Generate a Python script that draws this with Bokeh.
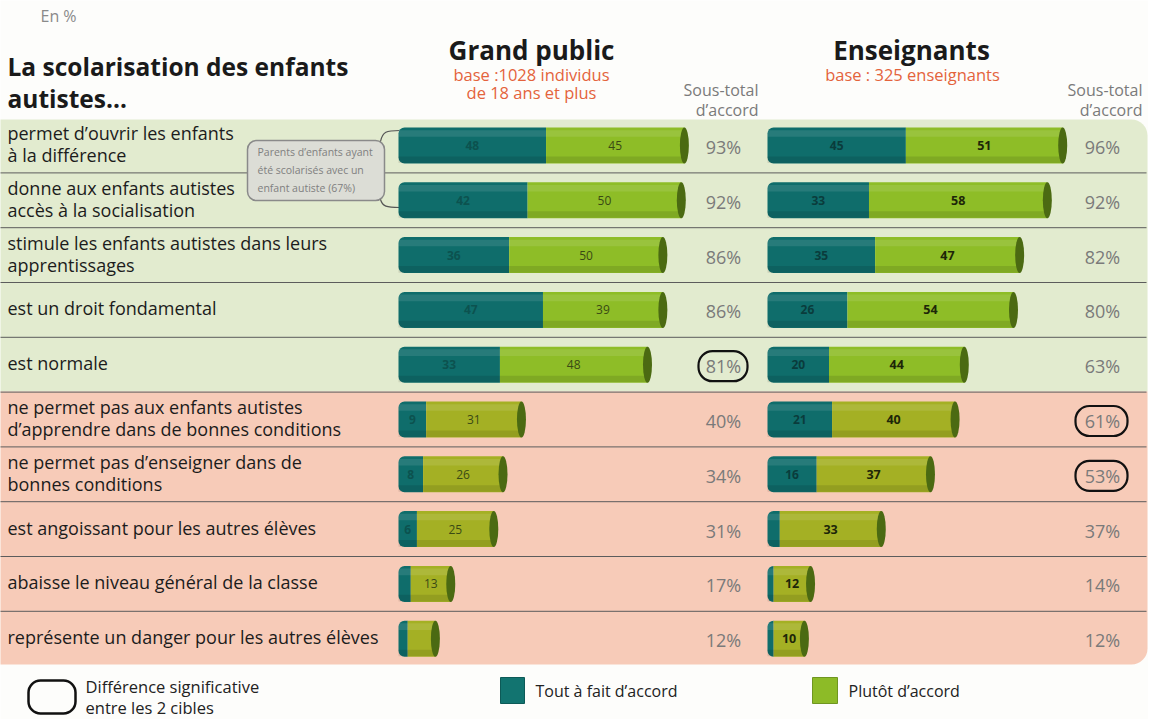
from bokeh.plotting import figure
from bokeh.models import Range1d, BoxAnnotation, ColumnDataSource
from bokeh.core.properties import value, field
from bokeh.embed import file_html
from bokeh.resources import INLINE

# ---------------- data ----------------
statements = [
    "permet d’ouvrir les enfants\nà la différence",
    "donne aux enfants autistes\naccès à la socialisation",
    "stimule les enfants autistes dans leurs\napprentissages",
    "est un droit fondamental",
    "est normale",
    "ne permet pas aux enfants autistes\nd’apprendre dans de bonnes conditions",
    "ne permet pas d’enseigner dans de\nbonnes conditions",
    "est angoissant pour les autres élèves",
    "abaisse le niveau général de la classe",
    "représente un danger pour les autres élèves",
]
gp_tout = [48, 42, 36, 47, 33, 9, 8, 6, 4, 3]
gp_plutot = [45, 50, 50, 39, 48, 31, 26, 25, 13, 9]
gp_subtotal = [93, 92, 86, 86, 81, 40, 34, 31, 17, 12]
ens_tout = [45, 33, 35, 26, 20, 21, 16, 4, 2, 2]
ens_plutot = [51, 58, 47, 54, 44, 40, 37, 33, 12, 10]
ens_subtotal = [96, 92, 82, 80, 63, 61, 53, 37, 14, 12]
gp_significant = [False, False, False, False, True, False, False, False, False, False]
ens_significant = [False, False, False, False, False, True, True, False, False, False]

# ---------------- layout helpers ----------------
W, H = 1148, 719
FONT = value("Open Sans")


def X(px):
    return px


def Y(py):
    return H - py


ROW0, ROWH = 145.0, 54.8
GP0, GPS = 398.0, 3.074
EN0, ENS = 767.0, 3.075

p = figure(width=W, height=H, x_range=Range1d(0, W), y_range=Range1d(0, H),
           output_backend="svg", toolbar_location=None, min_border=0,
           x_axis_type=None, y_axis_type=None, outline_line_color=None,
           background_fill_color="#fdfdfb", border_fill_color="#fdfdfb")
p.grid.visible = False
p.extra_y_ranges = {"rows": Range1d(start=(H - ROW0) / ROWH, end=(0 - ROW0) / ROWH)}
p.extra_x_ranges = {
    "gp": Range1d(start=(0 - GP0) / GPS, end=(W - GP0) / GPS),
    "ens": Range1d(start=(0 - EN0) / ENS, end=(W - EN0) / ENS),
}

n = len(statements)
rows = list(range(n))

# ---------------- background bands ----------------
p.add_layout(BoxAnnotation(left=-30, right=X(1147), top=Y(119), bottom=Y(391),
                           fill_color="#e2ebcf", fill_alpha=1, line_color=None,
                           border_radius=(0, 16, 0, 0), level="underlay"))
p.add_layout(BoxAnnotation(left=-30, right=X(1147), top=Y(391), bottom=Y(664),
                           fill_color="#f7cbb8", fill_alpha=1, line_color=None,
                           border_radius=(0, 0, 16, 0), level="underlay"))

# row separators
seps = [r + 0.5 for r in rows[:-1]]
p.segment(x0=-2, x1=X(1146), y0=seps, y1=seps,
          y_range_name="rows", line_color="#5c5c5c", line_width=1)

# ---------------- row labels ----------------
LINE_OFF = 11.0 / ROWH
LBL_SHIFT = -1.5 / ROWH
lab_y, lab_t = [], []
for r, s in zip(rows, statements):
    parts = s.split("\n")
    if len(parts) == 1:
        lab_y.append(r + LBL_SHIFT)
        lab_t.append(parts[0])
    else:
        lab_y += [r + LBL_SHIFT - LINE_OFF, r + LBL_SHIFT + LINE_OFF]
        lab_t += parts
p.text(x=X(7), y=lab_y, text=lab_t, y_range_name="rows",
       text_font=FONT, text_font_size="18px", text_color="#1c1c1c",
       text_align="left", text_baseline="middle")

# ---------------- callout (drawn over separators) ----------------
p.quad(left=X(247), right=X(384), top=Y(140), bottom=Y(200),
       fill_color="#dcddd6", line_color="#8a8a8a", line_width=1.5, border_radius=9)
p.text(x=X(257), y=[Y(151), Y(169), Y(187)],
       text=["Parents d’enfants ayant", "été scolarisés avec un", "enfant autiste (67%)"],
       text_font=FONT, text_font_size="10.5px", text_color="#808080",
       text_align="left", text_baseline="middle")
p.bezier(x0=[X(380), X(380)], y0=[Y(141), Y(199)], x1=[X(399), X(399)], y1=[Y(130), Y(207)],
         cx0=[X(382), X(382)], cy0=[Y(131), Y(206)], cx1=[X(386), X(386)], cy1=[Y(130), Y(207)],
         line_color="#555555", line_width=1.2)

# ---------------- bars ----------------
TEAL = "#0f6d6b"
GREEN_TOP = "#8ebd27"
GREEN_LOW = "#a4b024"
CAP = "#4b6a12"
BAR_H = 36 / ROWH

for tout, plutot, sub, sig, rng, scale, sub_x, box_l, box_r, bold_lbl in [
    (gp_tout, gp_plutot, gp_subtotal, gp_significant, "gp", GPS, 723, 698, 747, False),
    (ens_tout, ens_plutot, ens_subtotal, ens_significant, "ens", ENS, 1102, 1075, 1127, True),
]:
    end = [a + b for a, b in zip(tout, plutot)]
    greens = [GREEN_TOP if i < 5 else GREEN_LOW for i in rows]
    src = ColumnDataSource(dict(y=rows, tout=tout, end=end, gcol=greens))
    p.hbar(y="y", left=0, right="tout", height=BAR_H, source=src,
           x_range_name=rng, y_range_name="rows", fill_color=TEAL, line_color=None,
           border_radius=(6, 0, 0, 6))
    p.hbar(y="y", left="tout", right="end", height=BAR_H, source=src,
           x_range_name=rng, y_range_name="rows", fill_color=field("gcol"), line_color=None)
    # cylinder shading
    p.hbar(y=[r - 0.22 for r in rows], left=0, right=end, height=0.12,
           x_range_name=rng, y_range_name="rows", fill_color="white", fill_alpha=0.10,
           line_color=None)
    p.hbar(y=[r + 0.26 for r in rows], left=0, right=end, height=0.12,
           x_range_name=rng, y_range_name="rows", fill_color="black", fill_alpha=0.10,
           line_color=None)
    p.ellipse(x="end", y="y", width=9 / scale, height=BAR_H, source=src,
              x_range_name=rng, y_range_name="rows", fill_color=CAP, line_color=None)

    # value labels
    t_y = [r for r, v in zip(rows, tout) if v >= 5]
    t_x = [v / 2 for v in tout if v >= 5]
    t_s = [str(v) for v in tout if v >= 5]
    p.text(x=t_x, y=t_y, text=t_s, x_range_name=rng, y_range_name="rows",
           text_font=FONT, text_font_size="12px", text_font_style="bold",
           text_color="#0a3c3c" if bold_lbl else "#0c524f",
           text_align="center", text_baseline="middle")
    g_y = [r for r, v in zip(rows, plutot) if v >= 10]
    g_x = [a + b / 2 for a, b in zip(tout, plutot) if b >= 10]
    g_s = [str(b) for b in plutot if b >= 10]
    p.text(x=g_x, y=g_y, text=g_s, x_range_name=rng, y_range_name="rows",
           text_font=FONT, text_font_size="12.5px" if bold_lbl else "12px",
           text_font_style="bold" if bold_lbl else "normal",
           text_color="#1d2608" if bold_lbl else "#3a4a14",
           text_align="center", text_baseline="middle")

    # subtotals
    p.text(x=X(sub_x), y=[r + 1.5 / ROWH for r in rows], text=[f"{v}%" for v in sub],
           y_range_name="rows",
           text_font=FONT, text_font_size="18px", text_color="#7a7a7a",
           text_align="center", text_baseline="middle")
    sig_rows = [r + 1.5 / ROWH for r, s in zip(rows, sig) if s]
    p.hbar(y=sig_rows, left=X(box_l), right=X(box_r), height=30 / ROWH,
           y_range_name="rows", fill_alpha=0, line_color="#111111", line_width=2.2,
           border_radius=14)

# ---------------- headers ----------------
p.text(x=X(40), y=Y(15), text=["En %"], text_font=FONT, text_font_size="16px",
       text_color="#8a8a8a", text_align="left", text_baseline="middle")
p.text(x=X(7), y=[Y(66), Y(98)], text=["La scolarisation des enfants", "autistes…"],
       text_font=FONT, text_font_size="24.5px", text_font_style="bold",
       text_color="#1a1a1a", text_align="left", text_baseline="middle")
p.text(x=[X(531), X(911)], y=Y(49), text=["Grand public", "Enseignants"],
       text_font=FONT, text_font_size="26px", text_font_style="bold",
       text_color="#1a1a1a", text_align="center", text_baseline="middle")
p.text(x=[X(531), X(531), X(912)], y=[Y(74), Y(92), Y(74)],
       text=["base :1028 individus", "de 18 ans et plus", "base : 325 enseignants"],
       text_font=FONT, text_font_size="16.5px", text_color="#e4633c",
       text_align="center", text_baseline="middle")
p.text(x=[X(758), X(758), X(1142), X(1142)], y=[Y(89), Y(109), Y(89), Y(109)],
       text=["Sous-total", "d’accord", "Sous-total", "d’accord"],
       text_font=FONT, text_font_size="16px", text_color="#7a7a7a",
       text_align="right", text_baseline="middle")

# ---------------- legend ----------------
p.quad(left=X(28), right=X(75), top=Y(680), bottom=Y(713),
       fill_alpha=0, line_color="#111111", line_width=2.5, border_radius=12)
p.text(x=X(85), y=[Y(686), Y(707)], text=["Différence significative", "entre les 2 cibles"],
       text_font=FONT, text_font_size="16.5px", text_color="#222222",
       text_align="left", text_baseline="middle")
p.quad(left=[X(500), X(812)], right=[X(524), X(837)], top=Y(677), bottom=Y(703),
       fill_color=["#127470", "#8dbb27"], line_color=["#0d5a57", "#6f9620"], line_width=1)
p.text(x=[X(535), X(848)], y=Y(690), text=["Tout à fait d’accord", "Plutôt d’accord"],
       text_font=FONT, text_font_size="16px", text_color="#222222",
       text_align="left", text_baseline="middle")

open("out.html", "w").write(file_html(p, INLINE))
